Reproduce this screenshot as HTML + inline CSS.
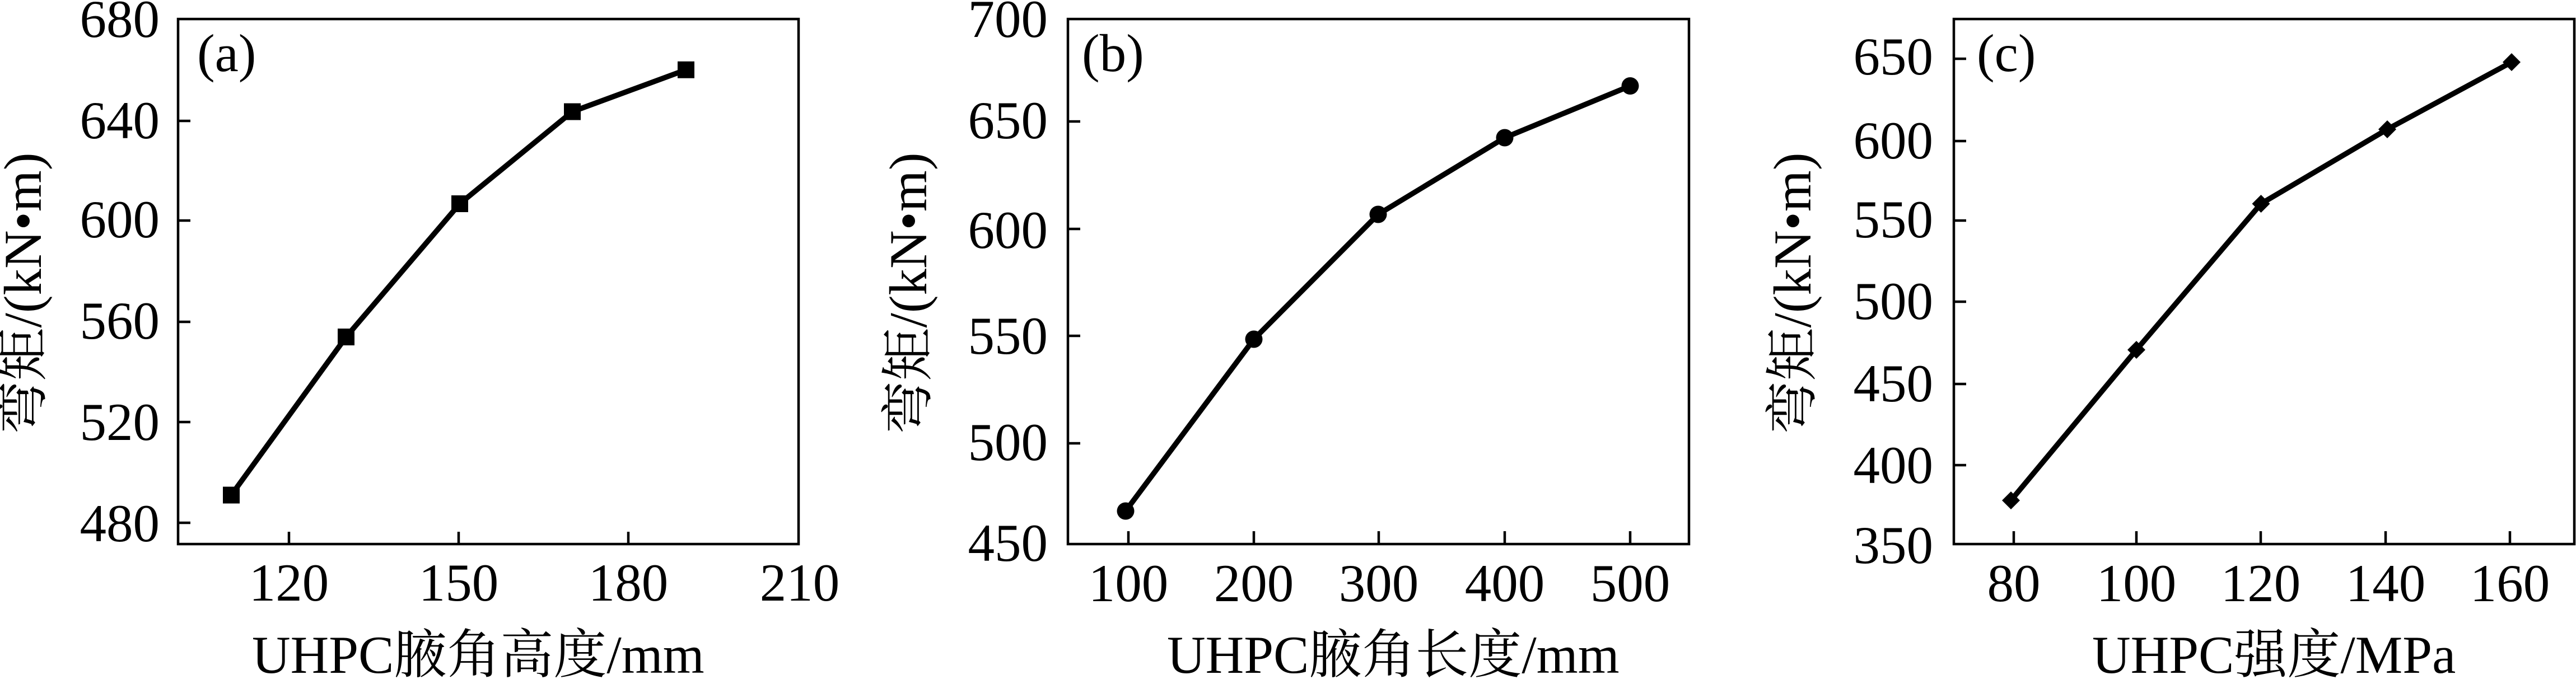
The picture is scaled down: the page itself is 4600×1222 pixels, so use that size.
<!DOCTYPE html>
<html>
<head>
<meta charset="utf-8">
<style>
html,body{margin:0;padding:0;background:#fff;}
svg{display:block;}
text{font-family:"Liberation Serif","Noto Serif CJK SC",serif;font-size:95px;fill:#000;}
</style>
</head>
<body>
<svg width="4600" height="1222" viewBox="0 0 4600 1222" xmlns="http://www.w3.org/2000/svg">
<rect width="4600" height="1222" fill="#fff"/>

<!-- ============ Panel (a) ============ -->
<g stroke="#000" stroke-width="4.5" fill="none">
  <rect x="318" y="34" width="1108" height="938"/>
  <!-- y ticks -->
  <line x1="318" y1="216" x2="340" y2="216"/>
  <line x1="318" y1="394" x2="340" y2="394"/>
  <line x1="318" y1="575" x2="340" y2="575"/>
  <line x1="318" y1="754" x2="340" y2="754"/>
  <line x1="318" y1="934" x2="340" y2="934"/>
  <!-- x ticks -->
  <line x1="516" y1="972" x2="516" y2="950"/>
  <line x1="819" y1="972" x2="819" y2="950"/>
  <line x1="1122" y1="972" x2="1122" y2="950"/>
</g>
<g text-anchor="end">
  <text x="285" y="66">680</text>
  <text x="285" y="247">640</text>
  <text x="285" y="424">600</text>
  <text x="285" y="605">560</text>
  <text x="285" y="786">520</text>
  <text x="285" y="967">480</text>
</g>
<g text-anchor="middle">
  <text x="516" y="1073">120</text>
  <text x="819" y="1073">150</text>
  <text x="1122" y="1073">180</text>
  <text x="1428" y="1073">210</text>
</g>
<text x="450" y="1202">UHPC腋角高度/mm</text>
<text transform="translate(73,524) rotate(-90)" text-anchor="middle">弯矩/(kN•m)</text>
<text x="352" y="127">(a)</text>
<polyline points="413,884.5 618,602 821,364 1022,199.5 1225,124.7" fill="none" stroke="#000" stroke-width="9.5" stroke-linejoin="round"/>
<g fill="#000">
  <rect x="398" y="869.5" width="30" height="30"/>
  <rect x="603" y="587" width="30" height="30"/>
  <rect x="806" y="349" width="30" height="30"/>
  <rect x="1007" y="184.5" width="30" height="30"/>
  <rect x="1210" y="109.7" width="30" height="30"/>
</g>

<!-- ============ Panel (b) ============ -->
<g stroke="#000" stroke-width="4.5" fill="none">
  <rect x="1907" y="34" width="1109" height="938"/>
  <line x1="1907" y1="217" x2="1929" y2="217"/>
  <line x1="1907" y1="409" x2="1929" y2="409"/>
  <line x1="1907" y1="600" x2="1929" y2="600"/>
  <line x1="1907" y1="792" x2="1929" y2="792"/>
  <line x1="2015" y1="972" x2="2015" y2="949"/>
  <line x1="2239" y1="972" x2="2239" y2="949"/>
  <line x1="2462" y1="972" x2="2462" y2="949"/>
  <line x1="2687" y1="972" x2="2687" y2="949"/>
  <line x1="2911" y1="972" x2="2911" y2="949"/>
</g>
<g text-anchor="end">
  <text x="1871" y="66">700</text>
  <text x="1871" y="247">650</text>
  <text x="1871" y="443">600</text>
  <text x="1871" y="632">550</text>
  <text x="1871" y="822">500</text>
  <text x="1871" y="1002">450</text>
</g>
<g text-anchor="middle">
  <text x="2015" y="1074">100</text>
  <text x="2239" y="1074">200</text>
  <text x="2462" y="1074">300</text>
  <text x="2687" y="1074">400</text>
  <text x="2911" y="1074">500</text>
</g>
<text x="2084" y="1202">UHPC腋角长度/mm</text>
<text transform="translate(1654,524) rotate(-90)" text-anchor="middle">弯矩/(kN•m)</text>
<text x="1932" y="127">(b)</text>
<polyline points="2010,913 2239,606 2461,383 2687,246 2911,153.5" fill="none" stroke="#000" stroke-width="9.5" stroke-linejoin="round"/>
<g fill="#000">
  <circle cx="2010" cy="913" r="15.5"/>
  <circle cx="2239" cy="606" r="15.5"/>
  <circle cx="2461" cy="383" r="15.5"/>
  <circle cx="2687" cy="246" r="15.5"/>
  <circle cx="2911" cy="153.5" r="15.5"/>
</g>

<!-- ============ Panel (c) ============ -->
<g stroke="#000" stroke-width="4.5" fill="none">
  <rect x="3489" y="34" width="1108" height="938"/>
  <line x1="3489" y1="105" x2="3511" y2="105"/>
  <line x1="3489" y1="252" x2="3511" y2="252"/>
  <line x1="3489" y1="394" x2="3511" y2="394"/>
  <line x1="3489" y1="539" x2="3511" y2="539"/>
  <line x1="3489" y1="686" x2="3511" y2="686"/>
  <line x1="3489" y1="831" x2="3511" y2="831"/>
  <line x1="3596" y1="972" x2="3596" y2="949"/>
  <line x1="3815" y1="972" x2="3815" y2="949"/>
  <line x1="4037" y1="972" x2="4037" y2="949"/>
  <line x1="4260" y1="972" x2="4260" y2="949"/>
  <line x1="4482" y1="972" x2="4482" y2="949"/>
</g>
<g text-anchor="end">
  <text x="3452" y="133">650</text>
  <text x="3452" y="283">600</text>
  <text x="3452" y="424">550</text>
  <text x="3452" y="570">500</text>
  <text x="3452" y="717">450</text>
  <text x="3452" y="863">400</text>
  <text x="3452" y="1006">350</text>
</g>
<g text-anchor="middle">
  <text x="3596" y="1074">80</text>
  <text x="3815" y="1074">100</text>
  <text x="4037" y="1074">120</text>
  <text x="4260" y="1074">140</text>
  <text x="4482" y="1074">160</text>
</g>
<text x="3736" y="1202">UHPC强度/MPa</text>
<text transform="translate(3233,524) rotate(-90)" text-anchor="middle">弯矩/(kN•m)</text>
<text x="3530" y="127">(c)</text>
<polyline points="3591,894 3815,625 4037.5,364 4263,231 4485,111" fill="none" stroke="#000" stroke-width="9.5" stroke-linejoin="round"/>
<g fill="#000">
  <polygon points="3591,878 3607,894 3591,910 3575,894"/>
  <polygon points="3815,609 3831,625 3815,641 3799,625"/>
  <polygon points="4037.5,348 4053.5,364 4037.5,380 4021.5,364"/>
  <polygon points="4263,215 4279,231 4263,247 4247,231"/>
  <polygon points="4485,95 4501,111 4485,127 4469,111"/>
</g>
</svg>
</body>
</html>
